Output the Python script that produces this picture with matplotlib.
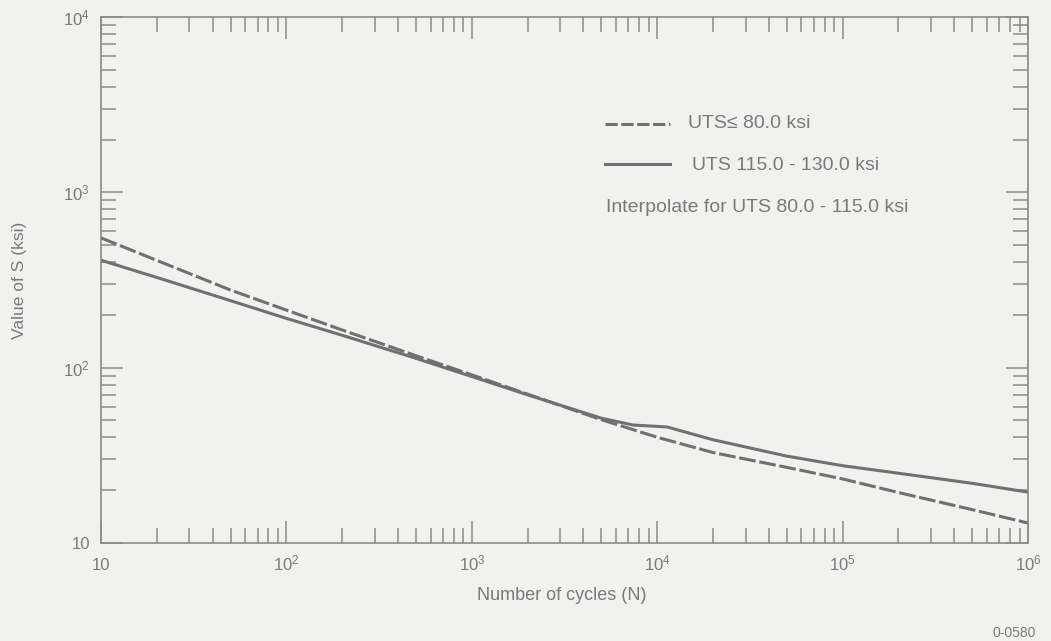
import matplotlib
matplotlib.use("Agg")
import matplotlib.pyplot as plt
from matplotlib.ticker import LogLocator, FixedLocator, NullFormatter

plt.rcParams['font.family'] = ['Liberation Sans', 'DejaVu Sans']
plt.rcParams['mathtext.fontset'] = 'custom'
plt.rcParams['mathtext.rm'] = 'Liberation Sans'

# Data
cycles_low = [10, 20, 50, 100, 200, 500, 1e3, 2e3, 5e3, 1e4, 2e4, 5e4, 1e5, 2e5, 5e5, 1e6]
s_low = [550, 409, 277, 213, 164, 117, 91, 70.6, 50.5, 40.1, 32.8, 27.0, 23.2, 19.4, 15.5, 13.0]

cycles_high = [10, 20, 50, 100, 200, 500, 1e3, 2e3, 5e3, 7.4e3, 1.13e4, 2e4, 5e4, 1e5, 2e5, 5e5, 1e6]
s_high = [410, 327, 241, 191, 153, 113, 89, 70, 51.5, 47.1, 45.9, 38.8, 31.3, 27.6, 25.0, 21.9, 19.5]

x_ticks = [10, 1e2, 1e3, 1e4, 1e5, 1e6]
x_labels = ['10', r'$\mathregular{10^{2}}$', r'$\mathregular{10^{3}}$', r'$\mathregular{10^{4}}$',
            r'$\mathregular{10^{5}}$', r'$\mathregular{10^{6}}$']
y_ticks = [10, 1e2, 1e3, 1e4]
y_labels = ['10', r'$\mathregular{10^{2}}$', r'$\mathregular{10^{3}}$', r'$\mathregular{10^{4}}$']

legend_low = 'UTS≤ 80.0 ksi'
legend_high = 'UTS 115.0 - 130.0 ksi'
note = 'Interpolate for UTS 80.0 - 115.0 ksi'

bg = '#f1f1ef'
line_c = '#707070'
axis_c = '#8a8a8a'
text_c = '#7a7a7a'

fig = plt.figure(figsize=(10.51, 6.41), dpi=100, facecolor=bg)
ax = fig.add_axes([101/1051, 1 - 543/641, (1028-101)/1051, (543-17)/641])
ax.set_facecolor(bg)

ax.plot(cycles_low, s_low, color=line_c, lw=2.2, dashes=(5.5, 1.2), solid_capstyle='butt')
ax.plot(cycles_high, s_high, color=line_c, lw=2.2)

ax.set_xscale('log')
ax.set_yscale('log')
ax.set_xlim(10, 1e6)
ax.set_ylim(10, 1e4)

ax.xaxis.set_major_locator(FixedLocator(x_ticks))
ax.set_xticklabels(x_labels)
ax.yaxis.set_major_locator(FixedLocator(y_ticks))
ax.set_yticklabels(y_labels)
ax.xaxis.set_minor_locator(LogLocator(base=10, subs=range(2, 10), numticks=20))
ax.yaxis.set_minor_locator(LogLocator(base=10, subs=range(2, 10), numticks=20))
ax.xaxis.set_minor_formatter(NullFormatter())
ax.yaxis.set_minor_formatter(NullFormatter())

ax.tick_params(which='both', direction='in', top=True, right=True, color=axis_c,
               labelcolor=text_c, labelsize=12, width=1.1)
ax.tick_params(which='major', length=16)
ax.tick_params(which='minor', length=10.5)
ax.tick_params(axis='x', which='major', pad=19.5)
ax.tick_params(axis='y', which='major', pad=8)
for lbl in ax.get_xticklabels():
    lbl.set_va('baseline')

for sp in ax.spines.values():
    sp.set_color(axis_c)
    sp.set_linewidth(1.2)

def fx(px):
    return px / 1051
def fy(py):
    return 1 - py / 641

fig.text(fx(562), fy(596), 'Number of cycles (N)', fontsize=13, color=text_c, va='center', ha='center')
fig.text(fx(20), fy(280), 'Value of S (ksi)', fontsize=12.5, color=text_c, va='center', ha='center',
         rotation=90)

fig.lines.append(plt.Line2D([fx(605), fx(670)], [fy(124), fy(124)], color=line_c, lw=2.2,
                            dashes=(4, 1.2), transform=fig.transFigure))
fig.lines.append(plt.Line2D([fx(605), fx(670)], [fy(164), fy(164)], color=line_c, lw=2.2,
                            transform=fig.transFigure))
fig.text(fx(688), fy(123), legend_low, fontsize=14, color=text_c, va='center', ha='left')
fig.text(fx(692), fy(165), legend_high, fontsize=14, color=text_c, va='center', ha='left')
fig.text(fx(606), fy(208), note, fontsize=14, color=text_c, va='center', ha='left')

fig.text(fx(1036), fy(633), '0-0580', fontsize=10, color=text_c, va='center', ha='right')

fig.savefig('out.png', dpi=100, facecolor=bg)
